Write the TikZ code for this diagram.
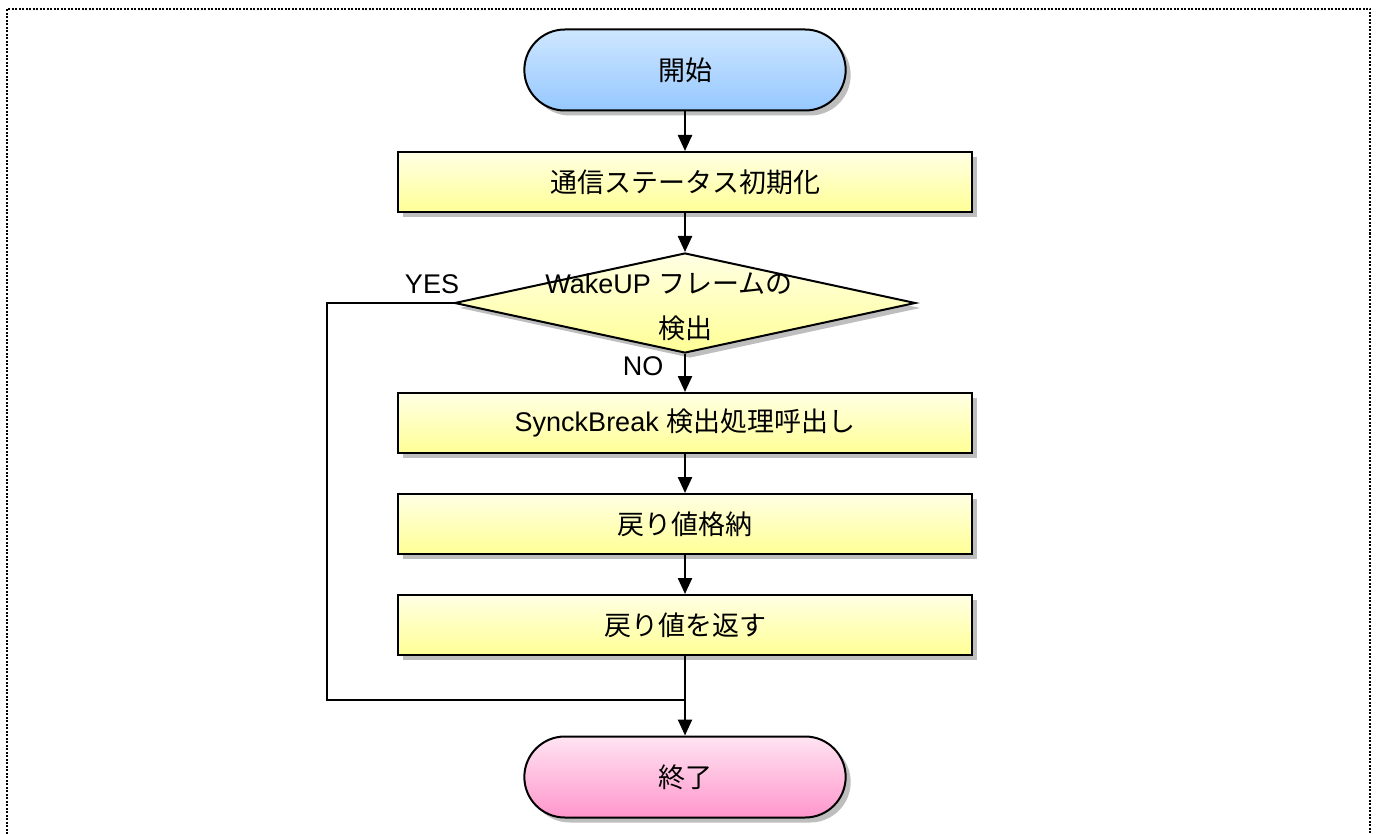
\documentclass[tikz,border=0pt]{standalone}
\usepackage{fontspec}
\setmainfont{Liberation Sans}
\newfontfamily\cjk{Noto Sans CJK JP}
\usetikzlibrary{shapes.misc,shapes.geometric,shadows,arrows.meta}
\definecolor{bluetop}{RGB}{206,230,255}
\definecolor{bluebot}{RGB}{150,200,255}
\definecolor{yeltop}{RGB}{255,255,228}
\definecolor{yelbot}{RGB}{255,255,150}
\definecolor{pinktop}{RGB}{255,228,242}
\definecolor{pinkbot}{RGB}{255,150,204}
\definecolor{shadowgray}{RGB}{190,190,190}
\tikzset{
  shad/.style={drop shadow={shadow xshift=5pt,shadow yshift=-5pt,fill=shadowgray,opacity=1}},
  terminal/.style={rounded rectangle,draw=black,line width=2pt,minimum width=328pt,minimum height=81pt,shad,font=\fontsize{27}{31}\selectfont},
  procbox/.style={rectangle,draw=black,line width=2pt,minimum width=574pt,minimum height=60pt,shad,top color=yeltop,bottom color=yelbot,font=\fontsize{27}{31}\selectfont},
  decision/.style={diamond,draw=black,line width=2pt,aspect=4.6,minimum width=461pt,minimum height=100pt,inner sep=0pt,shad,top color=yeltop,bottom color=yelbot},
  conn/.style={line width=2.4pt,-{Triangle[length=16pt,width=14pt]}},
  plain/.style={line width=2.4pt},
  lbl/.style={font=\fontsize{27}{31}\selectfont,inner sep=0pt}
}
\begin{document}
\begin{tikzpicture}[x=1pt,y=-1pt]
\useasboundingbox (0,0) rectangle (1378,834);
\draw[line width=1.6pt,dash pattern=on 2pt off 1.5pt] (7,834) -- (7,9) -- (1370,9) -- (1370,834);
\node[terminal,top color=bluetop,bottom color=bluebot] (start) at (685,70) {\cjk 開始};
\node[procbox] (init) at (685,182) {\cjk 通信ステータス初期化};
\node[decision] (dec) at (685,303) {};
\node[lbl] (dect1) at (669,284) {WakeUP {\cjk フレームの}};
\node[lbl] (dect2) at (685,328) {\cjk 検出};
\node[procbox] (sync) at (685,423) {SynckBreak {\cjk 検出処理呼出し}};
\node[procbox] (store) at (685,524) {\cjk 戻り値格納};
\node[procbox] (ret) at (685,625) {\cjk 戻り値を返す};
\node[terminal,top color=pinktop,bottom color=pinkbot] (stop) at (685,777) {\cjk 終了};
\node[lbl] (yes) at (432,284) {YES};
\node[lbl] (no) at (643,366) {NO};
\coordinate (lc1) at (327,303);
\coordinate (lc2) at (327,700);
\coordinate (join) at (685,700);
\draw[conn] (start.south) -- (init.north);
\draw[conn] (init.south) -- (dec.north);
\draw[conn] (dec.south) -- (sync.north);
\draw[conn] (sync.south) -- (store.north);
\draw[conn] (store.south) -- (ret.north);
\draw[conn] (ret.south) -- (stop.north);
\draw[plain] (dec.west) -- (lc1) -- (lc2) -- (join);
\end{tikzpicture}
\end{document}
